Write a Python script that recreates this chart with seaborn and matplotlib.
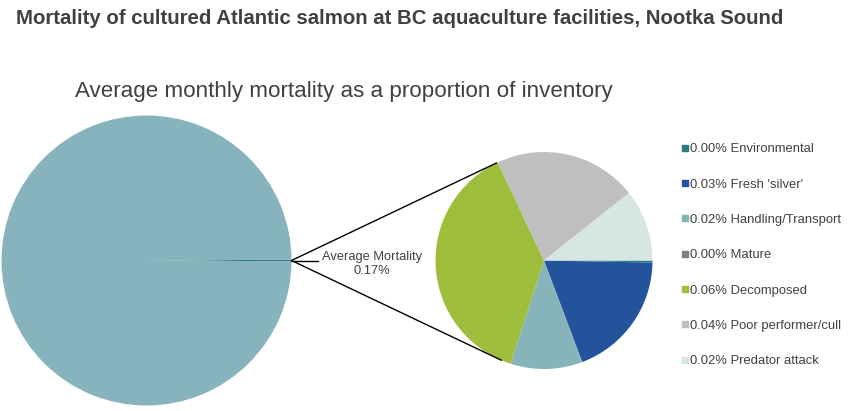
import matplotlib
matplotlib.use("Agg")
import matplotlib.pyplot as plt
from matplotlib.lines import Line2D
import numpy as np
import seaborn as sns

# ---- data ----
title = "Mortality of cultured Atlantic salmon at BC aquaculture facilities, Nootka Sound"
subtitle = "Average monthly mortality as a proportion of inventory"
main_labels = ["Average Mortality", "Survived"]
avg_mortality = 0.17          # percent of inventory
cause_names = ["Environmental", "Fresh 'silver'", "Handling/Transport", "Mature",
               "Decomposed", "Poor performer/cull", "Predator attack"]
cause_values = [0.0005, 0.032, 0.018, 0.0001, 0.064, 0.036, 0.018]   # percent
cause_colors = ["#2b7c80", "#23539a", "#87b3bb", "#7f7f7f",
                "#9dbd3b", "#bfbfbf", "#d6e6e3"]
main_colors = ["#2b7c80", "#87b4bc"]

sns.set_theme(style="white")
plt.rcParams["font.family"] = ["Liberation Sans", "DejaVu Sans"]

W, H = 850, 411
fig = plt.figure(figsize=(W / 100, H / 100), dpi=100)
ax = fig.add_axes([0, 0, 1, 1])

# geometry (pixel coordinates, y measured from bottom)
c1, r1 = (146.5, H - 260.5), 145.0
c2, r2 = (544.0, H - 260.5), 108.5

main_values = [avg_mortality, 100 - avg_mortality]
half = avg_mortality / 100 * 360 / 2
ax.pie(main_values, colors=main_colors, center=c1, radius=r1,
       startangle=half, counterclock=False, frame=True,
       wedgeprops=dict(linewidth=0))

ax.pie(cause_values, colors=cause_colors, center=c2, radius=r2,
       startangle=0, counterclock=False, frame=True,
       wedgeprops=dict(linewidth=0))
ax.set_xlim(0, W)
ax.set_ylim(0, H)
ax.set_aspect("equal")
ax.axis("off")

# connector lines
p0 = (c1[0] + r1, c1[1])
for ang in (115.7, -112.8):
    a = np.deg2rad(ang)
    p = (c2[0] + r2 * np.cos(a), c2[1] + r2 * np.sin(a))
    ax.plot([p0[0], p[0]], [p0[1], p[1]], color="black", lw=1.0,
            solid_capstyle="butt")
ax.plot([p0[0], p0[0] + 27], [p0[1], p0[1]], color="black", lw=1.0)
ax.text(372, H - 264, f"{main_labels[0]}\n{avg_mortality:.2f}%", ha="center",
        va="center", fontsize=9.3, color="#404040", linespacing=1.2)

# titles
fig.text(16 / W, 1 - 19 / H, title, ha="left", va="center", fontsize=14.7,
         fontweight="bold", color="#404040")
fig.text(344 / W, 1 - 91 / H, subtitle, ha="center", va="center",
         fontsize=16.1, color="#404040")

# legend
handles = [Line2D([0], [0], marker="s", ls="", markersize=4.0,
                  markerfacecolor=c, markeredgecolor=c) for c in cause_colors]
labels = [f"{v:.2f}% {n}" for v, n in zip(cause_values, cause_names)]
leg = fig.legend(handles, labels, loc="upper left",
                 bbox_to_anchor=(682 / W, 1 - 143 / H),
                 frameon=False, fontsize=9.4, handlelength=0.45,
                 handletextpad=0.2, labelspacing=1.78, borderpad=0,
                 borderaxespad=0)
for t in leg.get_texts():
    t.set_color("#404040")

fig.savefig("out.png", dpi=100)
